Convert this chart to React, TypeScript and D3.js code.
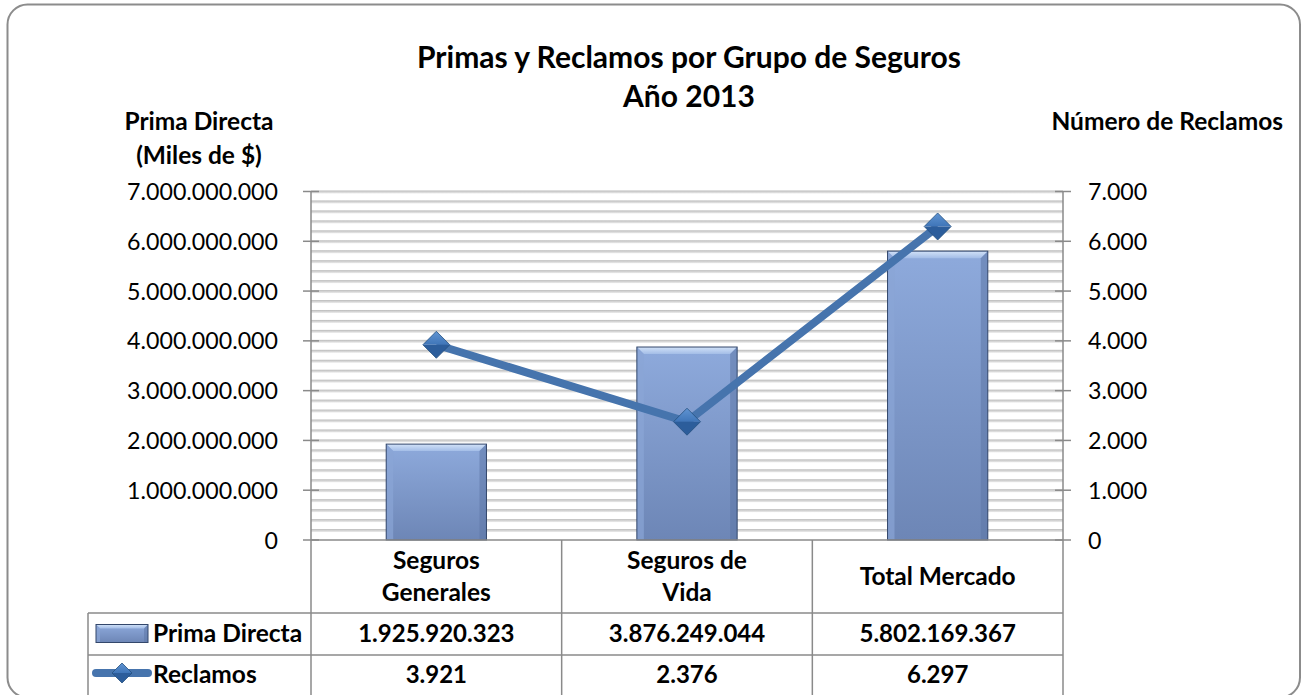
import React from "react";
import * as d3 from "d3";

const categories = ["Seguros Generales", "Seguros de Vida", "Total Mercado"];
const categoryLines = [["Seguros", "Generales"], ["Seguros de", "Vida"], ["Total Mercado"]];
const primaDirecta = [1925920323, 3876249044, 5802169367];
const reclamos = [3921, 2376, 6297];
const primaLabels = ["1.925.920.323", "3.876.249.044", "5.802.169.367"];
const reclamosLabels = ["3.921", "2.376", "6.297"];
const leftTicks = [0, 1e9, 2e9, 3e9, 4e9, 5e9, 6e9, 7e9];
const rightTicks = [0, 1000, 2000, 3000, 4000, 5000, 6000, 7000];

const W = 1303;
const H = 695;
const FONT = "Lato, 'Open Sans', sans-serif";
const fmt = (v: number) => d3.format(",")(v).replace(/,/g, ".");

export default function App() {
  const plotL = 311, plotR = 1063, plotT = 191.5, plotB = 540;
  const yL = d3.scaleLinear().domain([0, 7e9]).range([plotB, plotT]);
  const yR = d3.scaleLinear().domain([0, 7000]).range([plotB, plotT]);
  const x = d3.scaleBand<string>().domain(categories).range([plotL, plotR]).padding(0);
  const bw = x.bandwidth() * 0.4;
  const grid = yL.ticks(35).filter((v) => v > 0);
  const row1 = 613, row2 = 655, legL = 88;
  const line = d3.line<number>().x((_, i) => x(categories[i])! + x.bandwidth() / 2).y((d) => yR(d));
  const axisColor = "#8a8a8a";
  const bev = 7;
  const labelSize = 24.5;
  const valueSize = 24;

  const diamond = (cx: number, cy: number, r: number, key: string) => (
    <g key={key}>
      <path d={`M${cx - r},${cy} L${cx},${cy - r} L${cx + r},${cy} Z`} fill="url(#dTop)" />
      <path d={`M${cx - r},${cy} L${cx},${cy + r} L${cx + r},${cy} Z`} fill="#2c5d9b" />
      <path d={`M${cx - r},${cy} L${cx},${cy - r} L${cx + r},${cy} L${cx},${cy + r} Z`} fill="none" stroke="#24507f" strokeWidth={0.8} />
    </g>
  );

  const bevelBar = (x0: number, y0: number, w: number, h: number, b: number, key: string) => {
    const x1 = x0 + w, y1 = y0 + h;
    return (
      <g key={key}>
        <rect x={x0} y={y0} width={w} height={h} fill="url(#barGrad)" />
        <path d={`M${x0},${y0} L${x1},${y0} L${x1 - b},${y0 + b} L${x0 + b},${y0 + b} Z`} fill="url(#bevTop)" />
        <path d={`M${x0},${y0} L${x0 + b},${y0 + b} L${x0 + b},${y1} L${x0},${y1} Z`} fill="#8aa5d6" opacity={0.7} />
        <path d={`M${x1},${y0} L${x1 - b},${y0 + b} L${x1 - b},${y1} L${x1},${y1} Z`} fill="#5d76a6" opacity={0.55} />
        <rect x={x0} y={y0} width={w} height={h} fill="none" stroke="#33476b" strokeWidth={1} />
      </g>
    );
  };

  return (
    <svg width={W} height={H} style={{ position: "absolute", left: 0, top: 0, background: "#fff" }} fontFamily={FONT}>
      <defs>
        <linearGradient id="barGrad" x1="0" y1="0" x2="0" y2="1">
          <stop offset="0" stopColor="#8eaadc" />
          <stop offset="1" stopColor="#6d86b6" />
        </linearGradient>
        <linearGradient id="bevTop" x1="0" y1="0" x2="0" y2="1">
          <stop offset="0" stopColor="#d2e2f8" />
          <stop offset="1" stopColor="#a3bde7" />
        </linearGradient>
        <linearGradient id="dTop" x1="0" y1="0" x2="0" y2="1">
          <stop offset="0" stopColor="#6094d2" />
          <stop offset="1" stopColor="#3f75b8" />
        </linearGradient>
        <linearGradient id="gridGrad" x1="0" y1="0" x2="0" y2="1">
          <stop offset="0" stopColor="#b9b9b9" />
          <stop offset="0.4" stopColor="#cfcfcf" />
          <stop offset="1" stopColor="#ececec" />
        </linearGradient>
      </defs>
      <rect x={7.5} y={4.5} width={1292.5} height={693} rx={20} ry={20} fill="#fff" stroke="#8c8c8c" strokeWidth={2} />

      {/* Title */}
      <text x={689} y={68} textAnchor="middle" fontSize={30} fontWeight="bold" fill="#000">Primas y Reclamos por Grupo de Seguros</text>
      <text x={689} y={107} textAnchor="middle" fontSize={30} fontWeight="bold" fill="#000">Año 2013</text>

      {/* Axis titles */}
      <text x={199} y={130} textAnchor="middle" fontSize={labelSize} fontWeight="bold">Prima Directa</text>
      <text x={199} y={164} textAnchor="middle" fontSize={labelSize} fontWeight="bold">(Miles de $)</text>
      <text x={1283} y={130} textAnchor="end" fontSize={labelSize} fontWeight="bold">Número de Reclamos</text>

      {/* Gridlines */}
      {grid.map((v) => (
        <rect key={"g" + v} x={plotL} y={yL(v) - 1} width={plotR - plotL} height={3} fill="url(#gridGrad)" />
      ))}

      {/* Bars */}
      {primaDirecta.map((v, i) => {
        const cx = x(categories[i])! + x.bandwidth() / 2;
        return bevelBar(cx - bw / 2, yL(v), bw, plotB - yL(v), bev, "b" + i);
      })}

      {/* Axes */}
      <line x1={plotL} x2={plotL} y1={plotT} y2={H} stroke={axisColor} strokeWidth={1.5} />
      <line x1={plotR} x2={plotR} y1={plotT} y2={H} stroke={axisColor} strokeWidth={1.5} />
      <line x1={plotL} x2={plotR} y1={plotB} y2={plotB} stroke={axisColor} strokeWidth={1.5} />
      {leftTicks.map((v) => (
        <g key={"lt" + v}>
          <line x1={plotL - 8} x2={plotL + 8} y1={yL(v)} y2={yL(v)} stroke={axisColor} strokeWidth={1.5} />
          <text x={278} y={yL(v) + 8.5} textAnchor="end" fontSize={23.2}>{fmt(v)}</text>
        </g>
      ))}
      {rightTicks.map((v) => (
        <g key={"rt" + v}>
          <line x1={plotR - 8} x2={plotR + 8} y1={yR(v)} y2={yR(v)} stroke={axisColor} strokeWidth={1.5} />
          <text x={1088} y={yR(v) + 8.5} textAnchor="start" fontSize={23.2}>{fmt(v)}</text>
        </g>
      ))}

      {/* Line series */}
      <path d={line(reclamos) || ""} fill="none" stroke="#4674ad" strokeWidth={8} strokeLinejoin="round" />
      {reclamos.map((v, i) => diamond(x(categories[i])! + x.bandwidth() / 2, yR(v), 13.5, "d" + i))}

      {/* Data table */}
      <line x1={legL} x2={plotR} y1={row1} y2={row1} stroke={axisColor} strokeWidth={1.5} />
      <line x1={legL} x2={plotR} y1={row2} y2={row2} stroke={axisColor} strokeWidth={1.5} />
      <line x1={legL} x2={legL} y1={row1} y2={H} stroke={axisColor} strokeWidth={1.5} />
      {categories.slice(1).map((c) => (
        <line key={"v" + c} x1={x(c)!} x2={x(c)!} y1={plotB} y2={H} stroke={axisColor} strokeWidth={1.5} />
      ))}
      {categoryLines.map((lines, i) => {
        const cx = x(categories[i])! + x.bandwidth() / 2;
        const base = lines.length === 1 ? 585 : 569;
        return lines.map((t, j) => (
          <text key={"c" + i + j} x={cx} y={base + j * 32} textAnchor="middle" fontSize={labelSize} fontWeight="bold">{t}</text>
        ));
      })}
      {primaLabels.map((t, i) => (
        <text key={"p" + i} x={x(categories[i])! + x.bandwidth() / 2} y={642} textAnchor="middle" fontSize={valueSize} fontWeight="bold">{t}</text>
      ))}
      {reclamosLabels.map((t, i) => (
        <text key={"r" + i} x={x(categories[i])! + x.bandwidth() / 2} y={683} textAnchor="middle" fontSize={valueSize} fontWeight="bold">{t}</text>
      ))}

      {/* Legend keys */}
      {bevelBar(96, 624.5, 52, 18, 4, "legbar")}
      <text x={153} y={642} fontSize={labelSize} fontWeight="bold">Prima Directa</text>
      <line x1={96} x2={148} y1={673} y2={673} stroke="#4674ad" strokeWidth={8} strokeLinecap="round" />
      {diamond(122, 673, 10, "legd")}
      <text x={153} y={683} fontSize={labelSize} fontWeight="bold">Reclamos</text>
    </svg>
  );
}
